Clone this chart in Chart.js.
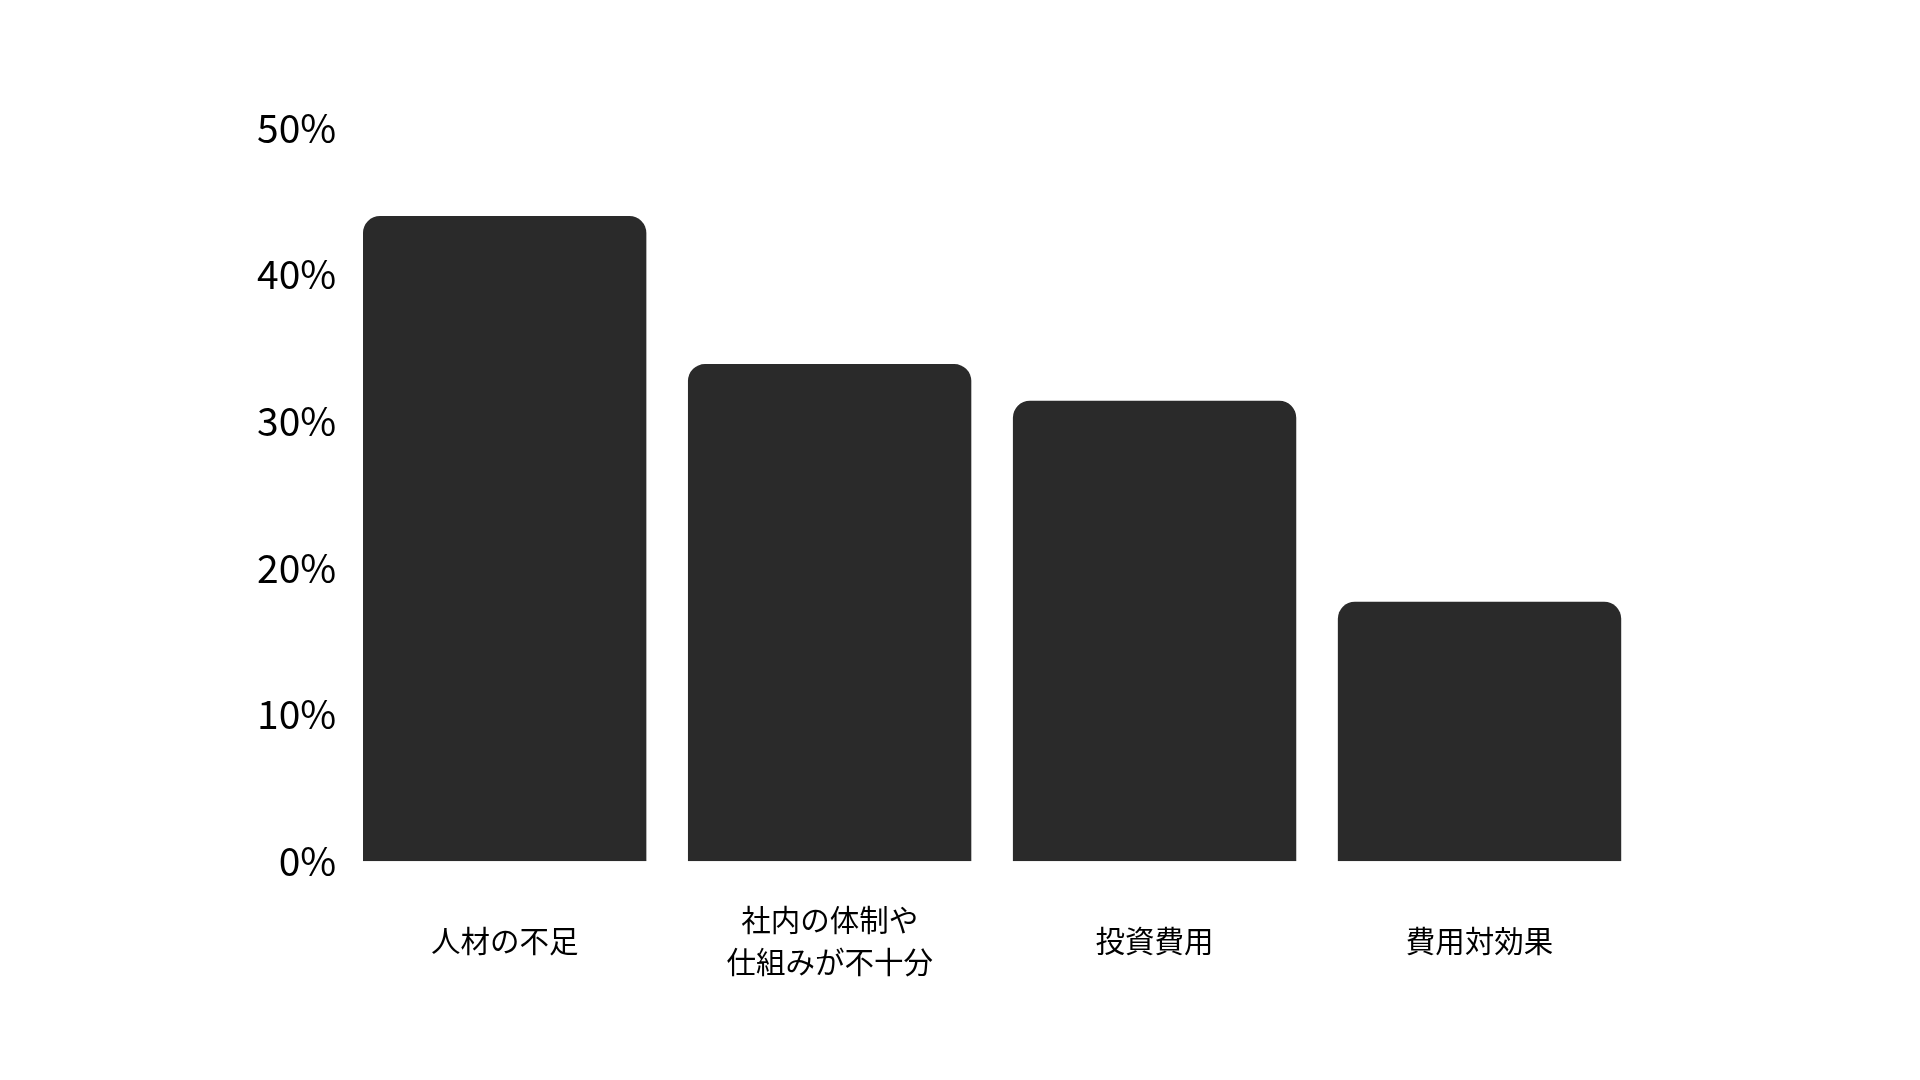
<!DOCTYPE html>
<html>
<head>
<meta charset="utf-8">
<script src="https://cdn.jsdelivr.net/npm/chart.js@4"></script>
<style>
  html, body { margin: 0; padding: 0; background: #fff; }
  #wrap { width: 1920px; height: 1080px; }
</style>
</head>
<body>
<div id="wrap"><canvas id="theChart" width="1920" height="1080"></canvas></div>
<script>
const categories = [
  '人材の不足',
  ['社内の体制や', '仕組みが不十分'],
  '投資費用',
  '費用対効果'
];
const shares = [44.0, 33.9, 31.4, 17.7];
const yTicks = [0, 10, 20, 30, 40, 50];

const font = '"Noto Sans CJK JP", "Noto Sans", sans-serif';

const ctx = document.getElementById('theChart').getContext('2d');
new Chart(ctx, {
  type: 'bar',
  data: {
    labels: categories,
    datasets: [{
      label: '',
      data: shares,
      backgroundColor: '#2a2a2a',
      borderRadius: 17,
      borderSkipped: 'start',
      barPercentage: 0.872,
      categoryPercentage: 1
    }]
  },
  options: {
    responsive: false,
    animation: false,
    layout: {
      padding: { left: 251, right: 278, top: 128, bottom: 17 }
    },
    plugins: {
      legend: { display: false },
      tooltip: { enabled: false }
    },
    scales: {
      x: {
        grid: { display: false, drawTicks: false },
        border: { display: false },
        ticks: {
          color: '#000',
          padding: 59,
          crossAlign: 'center',
          maxRotation: 0,
          font: { family: font, size: 29.5, lineHeight: 1.42 }
        }
      },
      y: {
        min: yTicks[0],
        max: yTicks[yTicks.length - 1],
        grid: { display: false, drawTicks: false },
        border: { display: false },
        afterBuildTicks: function(axis) {
          axis.ticks = yTicks.map(v => ({ value: v }));
        },
        ticks: {
          color: '#000',
          padding: 6,
          font: { family: font, size: 39 },
          callback: v => v + '%'
        }
      }
    }
  }
});
</script>
</body>
</html>
